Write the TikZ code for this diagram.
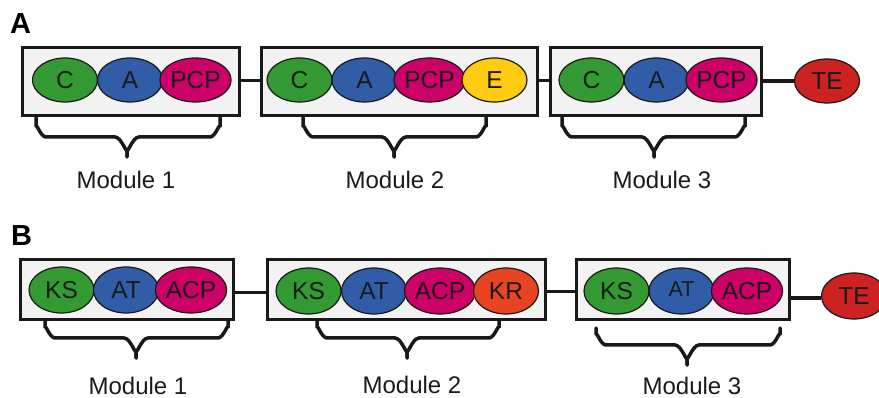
\documentclass[tikz,border=0pt]{standalone}
\usepackage{fontspec}
\setmainfont{Liberation Sans}
\usetikzlibrary{shapes.geometric}
\definecolor{cgreen}{HTML}{339933}
\definecolor{cblue}{HTML}{305CA8}
\definecolor{cmag}{HTML}{CC0066}
\definecolor{cyel}{HTML}{FFCC11}
\definecolor{cred}{HTML}{CC2222}
\definecolor{corange}{HTML}{E84422}
\definecolor{cbox}{HTML}{F2F2F2}
\definecolor{ctext}{HTML}{1A1A1A}
\tikzset{
  modbox/.style={draw=black!90, line width=3pt, fill=cbox, inner sep=0pt},
  dom/.style={ellipse, draw=black!90, line width=1.2pt, inner sep=0pt,
    minimum width=65pt, minimum height=44pt, text=ctext,
    font=\fontsize{24.5}{28}\selectfont},
  link/.style={line width=3pt, draw=black!90},
  thicklink/.style={line width=4.5pt, draw=black!90},
  bracepath/.style={line width=3.5pt, draw=black!90, line cap=round},
  modlabel/.style={anchor=base, text=ctext, font=\fontsize{24}{28}\selectfont, inner sep=0pt, text depth=0pt},
  panel/.style={anchor=north west, inner sep=0pt, font=\fontsize{29}{32}\selectfont\bfseries}
}
\begin{document}
\begin{tikzpicture}[x=1pt,y=-1pt]
\useasboundingbox (0,0) rectangle (879,398);
% ---------- Panel A ----------
\node[panel] (pa) at (10,13) {A};
\node[modbox, minimum width=217pt, minimum height=68pt] (a1) at (130.5,82) {};
\node[modbox, minimum width=276pt, minimum height=68pt] (a2) at (399,82) {};
\node[modbox, minimum width=211pt, minimum height=68pt] (a3) at (655.5,82) {};
\node[dom, fill=cgreen] (a1c) at (65,80) {C};
\node[dom, fill=cblue] (a1a) at (130,80) {A};
\node[dom, fill=cmag] (a1p) at (195.5,80) {PCP};
\node[dom, fill=cgreen] (a2c) at (299.5,80) {C};
\node[dom, fill=cblue] (a2a) at (364.5,80) {A};
\node[dom, fill=cmag] (a2p) at (429.5,80) {PCP};
\node[dom, fill=cyel] (a2e) at (494.5,80) {E};
\node[dom, fill=cgreen] (a3c) at (591.5,80) {C};
\node[dom, fill=cblue] (a3a) at (656.5,80) {A};
\node[dom, fill=cmag] (a3p) at (721.5,80) {PCP};
\node[dom, fill=cred] (ate) at (827,81) {TE};
\draw[link] (a1.east |- 0,81) -- (a2.west |- 0,81);
\draw[link] (a2.east |- 0,81) -- (a3.west |- 0,81);
\draw[thicklink] (a3.east |- ate.west) -- (ate.west);
% braces A
\foreach \xa/\xb/\xc/\nm in {36/220/127/ba1, 303/486/394/ba2, 562/745/654/ba3}{
  \coordinate (\nm) at (\xc,157);
  \draw[bracepath] (\xa,117) -- (\xa,127) to[out=90,in=180] ({\xa+10},137)
     -- ({\xc-12},137) to[out=0,in=-90] (\xc,149) -- (\nm);
  \draw[bracepath] (\xb,117) -- (\xb,127) to[out=90,in=0] ({\xb-10},137)
     -- ({\xc+12},137) to[out=180,in=-90] (\xc,149) -- (\nm);
}
\node[modlabel] (ma1) at (126,188.5) {Module 1};
\node[modlabel] (ma2) at (395,188.5) {Module 2};
\node[modlabel] (ma3) at (662,188.5) {Module 3};
% ---------- Panel B ----------
\node[panel] (pb) at (11,225) {B};
\node[modbox, minimum width=213pt, minimum height=60pt] (b1) at (126.5,290) {};
\node[modbox, minimum width=278pt, minimum height=60pt] (b2) at (406,290) {};
\node[modbox, minimum width=213pt, minimum height=60pt] (b3) at (682.5,290) {};
\node[dom, fill=cgreen, minimum height=46pt] (b1k) at (61.5,290) {KS};
\node[dom, fill=cblue, minimum height=46pt] (b1a) at (126,290) {AT};
\node[dom, fill=cmag, minimum height=46pt] (b1p) at (191,290) {ACP};
\node[dom, fill=cgreen, minimum height=46pt] (b2k) at (308.5,291) {KS};
\node[dom, fill=cblue, minimum height=46pt] (b2a) at (374,291) {AT};
\node[dom, fill=cmag, minimum height=46pt] (b2p) at (440,291) {ACP};
\node[dom, fill=corange, minimum height=46pt] (b2r) at (506,291) {KR};
\node[dom, fill=cgreen, minimum height=46pt] (b3k) at (616.5,291) {KS};
\node[dom, fill=cblue, minimum height=46pt, font=\fontsize{21.5}{25}\selectfont] (b3a) at (681.5,291) {\raisebox{4pt}{AT}};
\node[dom, fill=cmag, minimum height=46pt] (b3p) at (747,291) {ACP};
\node[dom, fill=cred, minimum height=46pt] (bte) at (854,296) {TE};
\draw[link] (b1.east |- 0,293) -- (b2.west |- 0,293);
\draw[link] (b2.east |- 0,292) -- (b3.west |- 0,292);
\draw[thicklink] (b3.east |- 0,298) -- (bte.west |- 0,298);
% braces B
\foreach \xa/\xb/\xc/\yt/\nm in {45/228/136/320/bb1, 317/499/407/320/bb2, 596/780/687/327/bb3}{
  \coordinate (\nm) at (\xc,\yt+38);
  \draw[bracepath] (\xa,\yt+1) -- (\xa,\yt+8) to[out=90,in=180] ({\xa+10},\yt+18)
     -- ({\xc-12},\yt+18) to[out=0,in=-90] (\xc,\yt+30) -- (\nm);
  \draw[bracepath] (\xb,\yt+1) -- (\xb,\yt+8) to[out=90,in=0] ({\xb-10},\yt+18)
     -- ({\xc+12},\yt+18) to[out=180,in=-90] (\xc,\yt+30) -- (\nm);
}
\node[modlabel] (mb1) at (138,394) {Module 1};
\node[modlabel] (mb2) at (412,393) {Module 2};
\node[modlabel] (mb3) at (692,394) {Module 3};
\end{tikzpicture}
\end{document}
